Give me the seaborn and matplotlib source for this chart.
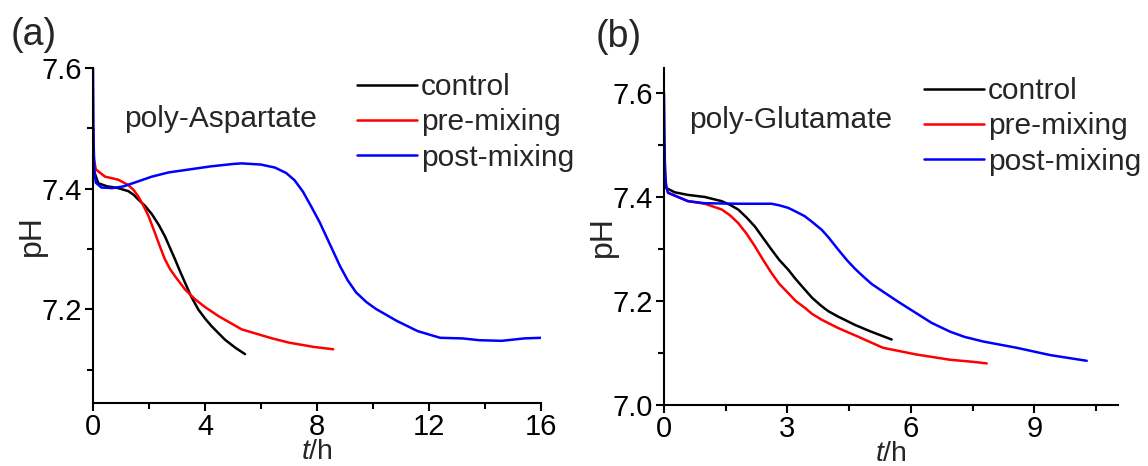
import numpy as np
import pandas as pd
import seaborn as sns
import matplotlib.pyplot as plt
from matplotlib.ticker import MultipleLocator

# ---------------- data (panel a: poly-Aspartate) ----------------
a_control_t = [0, 0.03, 0.19, 0.5, 0.9, 1.26, 1.45, 1.62, 1.85, 2.1, 2.35, 2.57, 2.75, 2.93, 3.1, 3.29, 3.5,
               3.76, 4.0, 4.24, 4.71, 5.1, 5.43]
a_control_ph = [7.50, 7.43, 7.409, 7.404, 7.401, 7.396, 7.390, 7.382, 7.372, 7.358, 7.340, 7.321, 7.302, 7.283,
                7.264, 7.244, 7.222, 7.200, 7.185, 7.172, 7.150, 7.136, 7.126]
a_pre_t = [0, 0.03, 0.1, 0.43, 0.9, 1.26, 1.45, 1.62, 1.8, 1.98, 2.21, 2.4, 2.57, 2.75, 2.93, 3.29, 3.64, 4.0,
           4.48, 5.31, 6.4, 7.0, 7.87, 8.58]
a_pre_ph = [7.50, 7.45, 7.432, 7.420, 7.415, 7.406, 7.398, 7.387, 7.372, 7.355, 7.327, 7.303, 7.283, 7.267, 7.255,
            7.233, 7.217, 7.204, 7.189, 7.167, 7.152, 7.145, 7.138, 7.134]
a_post_t = [0, 0.02, 0.05, 0.1, 0.3, 0.7, 1.1, 1.6, 2.1, 2.7, 3.3, 4.2, 5.0, 5.3, 6.0, 6.5, 6.9, 7.2, 7.5, 7.8,
            8.1, 8.46, 8.82, 9.1, 9.4, 9.77, 10.1, 10.85, 11.6, 12.4, 13.2, 13.8, 14.6, 15.4, 16.0]
a_post_ph = [7.60, 7.48, 7.43, 7.41, 7.402, 7.401, 7.404, 7.412, 7.420, 7.427, 7.431, 7.437, 7.441, 7.442, 7.440,
             7.435, 7.426, 7.414, 7.395, 7.370, 7.344, 7.308, 7.272, 7.248, 7.228, 7.212, 7.201, 7.181, 7.164,
             7.153, 7.152, 7.149, 7.148, 7.152, 7.153]

# ---------------- data (panel b: poly-Glutamate) ----------------
b_control_t = [0, 0.02, 0.06, 0.26, 0.58, 0.99, 1.40, 1.6, 1.80, 2.0, 2.21, 2.4, 2.61, 2.8, 3.02, 3.2, 3.42,
               3.6, 3.83, 4.0, 4.23, 4.64, 5.0, 5.53]
b_control_ph = [7.50, 7.44, 7.417, 7.409, 7.404, 7.400, 7.392, 7.385, 7.376, 7.361, 7.343, 7.322, 7.299, 7.279,
                7.260, 7.242, 7.222, 7.206, 7.190, 7.180, 7.170, 7.154, 7.142, 7.126]
b_pre_t = [0, 0.02, 0.1, 0.58, 0.99, 1.40, 1.6, 1.80, 2.0, 2.21, 2.4, 2.61, 2.8, 3.02, 3.2, 3.42, 3.6, 3.83,
           4.23, 4.64, 5.32, 6.14, 6.95, 7.51, 7.84]
b_pre_ph = [7.50, 7.43, 7.408, 7.392, 7.387, 7.376, 7.365, 7.350, 7.330, 7.305, 7.280, 7.254, 7.233, 7.215, 7.200,
            7.187, 7.175, 7.164, 7.148, 7.134, 7.110, 7.097, 7.087, 7.083, 7.080]
b_post_t = [0, 0.02, 0.05, 0.1, 0.58, 0.99, 1.80, 2.61, 2.8, 3.02, 3.2, 3.42, 3.6, 3.83, 4.0, 4.23, 4.45, 4.64,
            4.8, 5.04, 5.32, 5.7, 6.14, 6.5, 6.95, 7.3, 7.76, 8.57, 9.38, 10.27]
b_post_ph = [7.60, 7.47, 7.42, 7.408, 7.392, 7.388, 7.387, 7.387, 7.384, 7.379, 7.372, 7.363, 7.352, 7.337, 7.322,
             7.299, 7.278, 7.262, 7.250, 7.233, 7.218, 7.198, 7.176, 7.158, 7.141, 7.131, 7.122, 7.110, 7.096, 7.085]

series_names = ["control", "pre-mixing", "post-mixing"]
colors = ["#000000", "#ff0000", "#0000ff"]
panel_labels = ["(a)", "(b)"]
panel_titles = ["poly-Aspartate", "poly-Glutamate"]


def make_df(ts, phs):
    frames = []
    for name, t, p in zip(series_names, ts, phs):
        frames.append(pd.DataFrame({"t": t, "pH": p, "series": name}))
    return pd.concat(frames, ignore_index=True)


df_a = make_df([a_control_t, a_pre_t, a_post_t], [a_control_ph, a_pre_ph, a_post_ph])
df_b = make_df([b_control_t, b_pre_t, b_post_t], [b_control_ph, b_pre_ph, b_post_ph])

sns.set_style("ticks")
plt.rcParams['font.family'] = ['Liberation Sans', 'DejaVu Sans']
plt.rcParams['mathtext.fontset'] = 'custom'
plt.rcParams['mathtext.it'] = 'Liberation Sans:italic'
plt.rcParams['mathtext.rm'] = 'Liberation Sans'

fig = plt.figure(figsize=(11.48, 4.66), dpi=100)
ax1 = fig.add_axes([93 / 1148, 1 - 403 / 466, (541 - 93) / 1148, (403 - 68) / 466])
ax2 = fig.add_axes([664 / 1148, 1 - 405 / 466, (1118 - 664) / 1148, (405 - 68) / 466])

palette = dict(zip(series_names, colors))

for ax, df in [(ax1, df_a), (ax2, df_b)]:
    sns.lineplot(data=df, x="t", y="pH", hue="series", hue_order=series_names, palette=palette,
                 sort=False, estimator=None, linewidth=1.8, ax=ax, legend=True)
    for side in ["top", "right"]:
        ax.spines[side].set_visible(False)
    for side in ["left", "bottom"]:
        ax.spines[side].set_linewidth(1.5)
        ax.spines[side].set_color("black")
    ax.tick_params(which="major", direction="out", length=6, width=1.5, labelsize=21, colors="black", pad=2)
    ax.tick_params(axis="x", which="major", pad=1)
    ax.tick_params(which="minor", direction="out", length=4, width=1.5, colors="black")
    ax.set_ylabel("pH", fontsize=23, labelpad=-4)
    ax.set_xlabel("$t$/h", fontsize=20.5, labelpad=-1.5)
    leg = ax.legend(frameon=False, fontsize=21.5, handlelength=2.0, handletextpad=0.15,
                    labelspacing=0.25, borderaxespad=0.0, borderpad=0.0)
    for line in leg.get_lines():
        line.set_linewidth(1.8)

ax1.set_xlim(0, 16)
ax1.set_ylim(7.045, 7.6)
ax1.xaxis.set_major_locator(MultipleLocator(4))
ax1.xaxis.set_minor_locator(MultipleLocator(2))
ax1.yaxis.set_minor_locator(MultipleLocator(0.1))
ax1.set_yticks([7.2, 7.4, 7.6])
ax1.set_yticklabels(["7.2", "7.4", "7.6"])
ax1.legend_.set_bbox_to_anchor((357 / 1148, 1 - 73 / 466), transform=fig.transFigure)
ax1.legend_.set_loc("upper left")

ax2.set_xlim(0, 11.03)
ax2.set_ylim(7.0, 7.648)
ax2.xaxis.set_major_locator(MultipleLocator(3))
ax2.xaxis.set_minor_locator(MultipleLocator(1.5))
ax2.yaxis.set_minor_locator(MultipleLocator(0.1))
ax2.set_yticks([7.0, 7.2, 7.4, 7.6])
ax2.set_yticklabels(["7.0", "7.2", "7.4", "7.6"])
ax2.legend_.set_bbox_to_anchor((924 / 1148, 1 - 77 / 466), transform=fig.transFigure)
ax2.legend_.set_loc("upper left")

fig.text(11 / 1148, 1 - 35 / 466, panel_labels[0], fontsize=27, va="center", ha="left")
fig.text(596 / 1148, 1 - 37 / 466, panel_labels[1], fontsize=27, va="center", ha="left")
fig.text(124 / 1148, 1 - 119 / 466, panel_titles[0], fontsize=21.5, va="center", ha="left")
fig.text(689 / 1148, 1 - 120 / 466, panel_titles[1], fontsize=21.5, va="center", ha="left")

fig.savefig("out.png", dpi=100, facecolor="white")
